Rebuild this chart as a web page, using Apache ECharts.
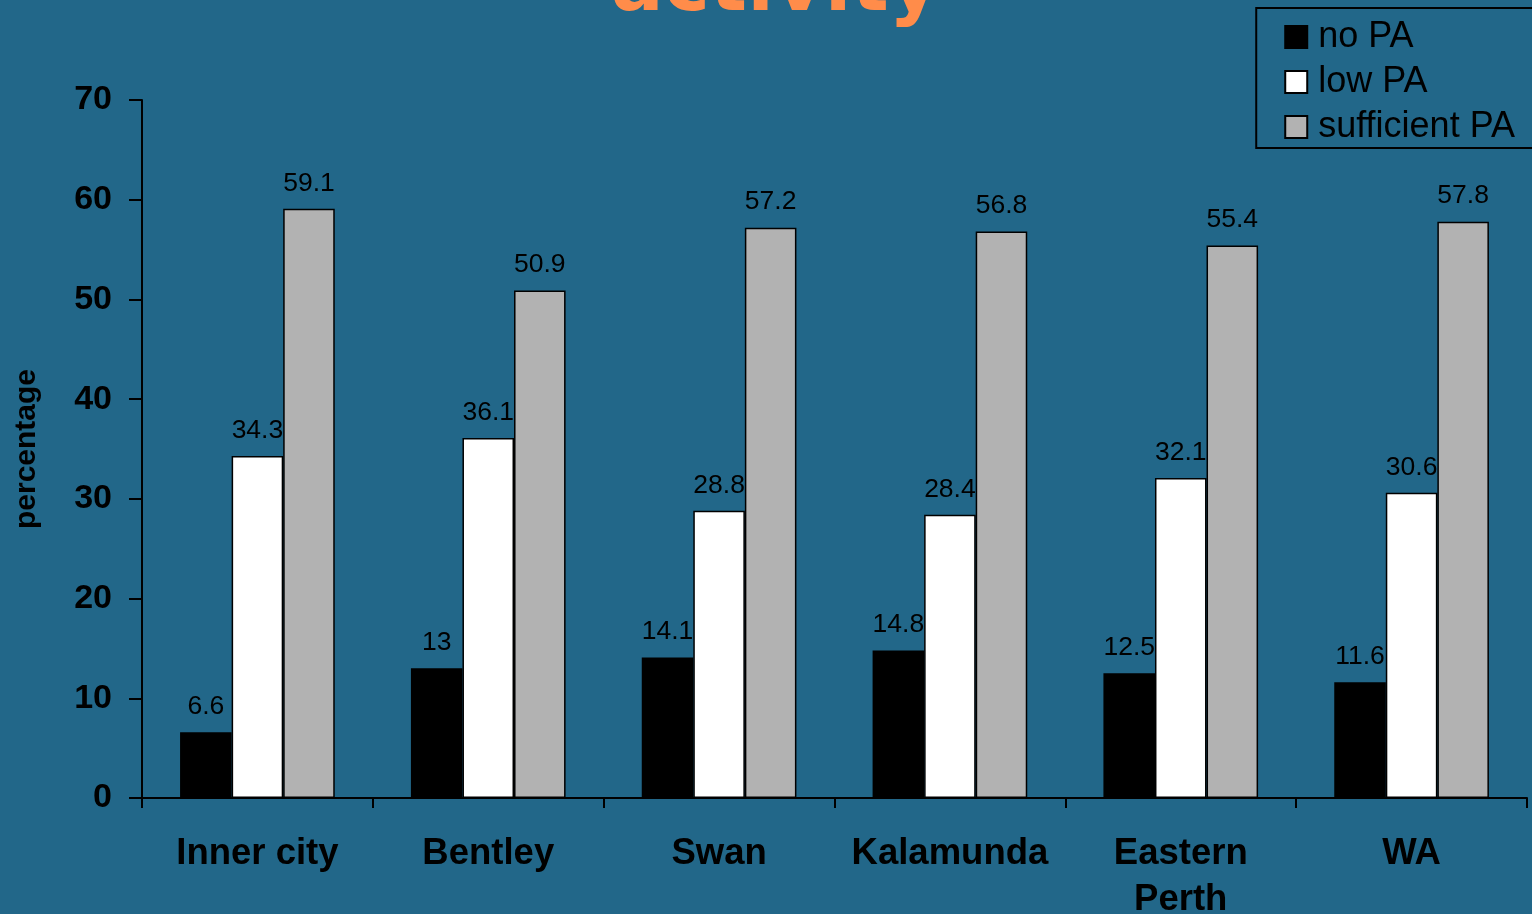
<!DOCTYPE html>
<html><head><meta charset="utf-8">
<script src="https://cdn.jsdelivr.net/npm/echarts@6/dist/echarts.min.js"></script>
<style>html,body{margin:0;padding:0;background:#226789;}#c{width:1532px;height:914px;}</style>
</head><body><div id="c"></div>
<script>
const categories = ['Inner city', 'Bentley', 'Swan', 'Kalamunda', 'Eastern\nPerth', 'WA'];
const noPA = [6.6, 13, 14.1, 14.8, 12.5, 11.6];
const lowPA = [34.3, 36.1, 28.8, 28.4, 32.1, 30.6];
const sufficientPA = [59.1, 50.9, 57.2, 56.8, 55.4, 57.8];
const yTicks = [0, 10, 20, 30, 40, 50, 60, 70];

const font = '"Liberation Sans", Arial, sans-serif';
const chart = echarts.init(document.getElementById('c'));
const mk = (name, data, color) => ({
  name, type: 'bar', data,
  barGap: '0%', barCategoryGap: '33%',
  itemStyle: { color, borderColor: '#000', borderWidth: 1.5 },
  label: { show: true, position: 'top', distance: 12, color: '#000', fontSize: 26.5, fontFamily: font }
});
chart.setOption({
  backgroundColor: '#226789',
  animation: false,
  title: {
    text: 'activity', left: 606, top: -54,
    textStyle: { color: '#FF8C4A', fontSize: 78, fontWeight: 'bold', fontFamily: '"DejaVu Sans", Verdana, sans-serif' }
  },
  legend: {
    orient: 'vertical', right: -10, top: 8,
    backgroundColor: 'transparent',
    borderColor: '#000', borderWidth: 2,
    padding: [11, 27, 3, 28],
    itemWidth: 22, itemHeight: 22, itemGap: 9, icon: 'rect',
    textStyle: { color: '#000', fontSize: 36, lineHeight: 36, fontFamily: font, padding: [0, 0, 0, 6] },
    data: ['no PA', 'low PA', 'sufficient PA']
  },
  grid: { left: 142, right: 5, top: 100, bottom: 116, containLabel: false, outerBoundsMode: 'none' },
  xAxis: {
    type: 'category', data: categories,
    axisLine: { lineStyle: { color: '#000', width: 2 } },
    axisTick: { show: true, length: 10, lineStyle: { color: '#000', width: 2 } },
    axisLabel: { interval: 0, color: '#000', fontSize: 36.5, fontWeight: 'bold', fontFamily: font, margin: 33, lineHeight: 46 }
  },
  yAxis: {
    type: 'value', min: yTicks[0], max: yTicks[yTicks.length - 1], interval: 10,
    name: 'percentage', nameLocation: 'middle', nameGap: 100, nameRotate: 90,
    nameTextStyle: { color: '#000', fontSize: 30, fontWeight: 'bold', fontFamily: font },
    splitLine: { show: false },
    axisLine: { show: true, lineStyle: { color: '#000', width: 2 } },
    axisTick: { show: true, length: 13, lineStyle: { color: '#000', width: 2 } },
    axisLabel: { color: '#000', fontSize: 34, fontWeight: 'bold', fontFamily: font, margin: 30 }
  },
  series: [
    mk('no PA', noPA, '#000000'),
    mk('low PA', lowPA, '#ffffff'),
    mk('sufficient PA', sufficientPA, '#b2b2b2')
  ]
});
</script></body></html>
